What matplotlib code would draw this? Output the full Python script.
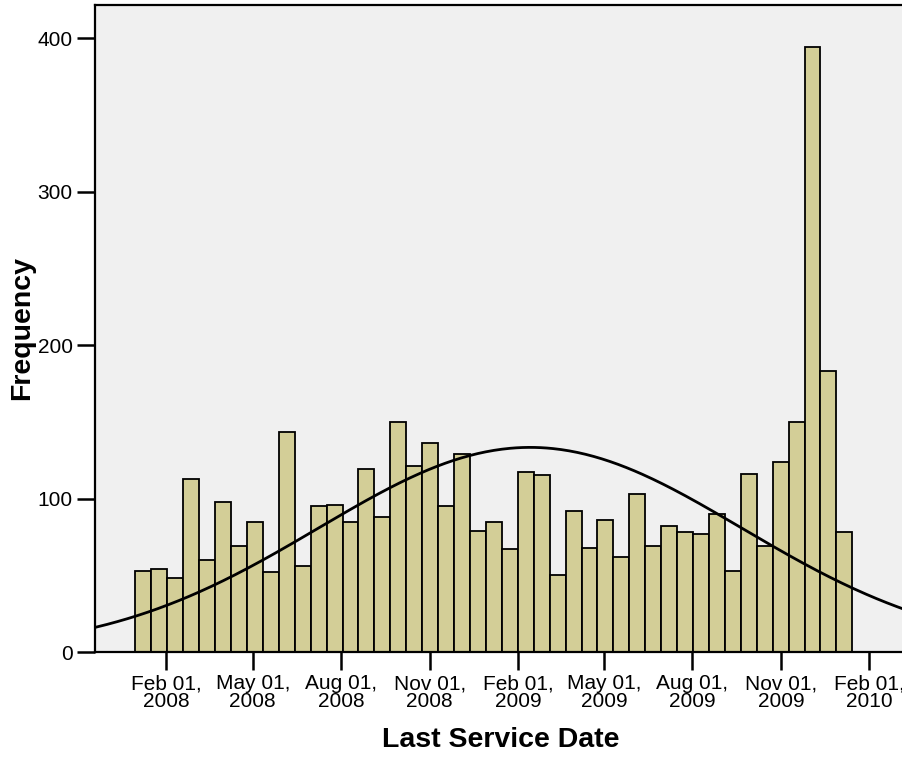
import datetime as dt

import numpy as np
import matplotlib
matplotlib.use("Agg")
import matplotlib.pyplot as plt
import matplotlib.dates as mdates

plt.rcParams["font.family"] = ["Liberation Sans", "DejaVu Sans"]

# histogram of last service dates: 45 bins, ~16.56 days wide
BIN_START = dt.datetime(2007, 12, 31)
BIN_DAYS = 16.56
counts = [53, 54, 48, 113, 60, 98, 69, 85, 52, 143,
          56, 95, 96, 85, 119, 88, 150, 121, 136, 95,
          129, 79, 85, 67, 117, 115, 50, 92, 68, 86,
          62, 103, 69, 82, 78, 77, 90, 53, 116, 69,
          124, 150, 394, 183, 78]
tick_dates = [dt.datetime(2008, 2, 1), dt.datetime(2008, 5, 1), dt.datetime(2008, 8, 1),
              dt.datetime(2008, 11, 1), dt.datetime(2009, 2, 1), dt.datetime(2009, 5, 1),
              dt.datetime(2009, 8, 1), dt.datetime(2009, 11, 1), dt.datetime(2010, 2, 1)]
tick_labels = ["Feb 01,\n2008", "May 01,\n2008", "Aug 01,\n2008", "Nov 01,\n2008",
               "Feb 01,\n2009", "May 01,\n2009", "Aug 01,\n2009", "Nov 01,\n2009",
               "Feb 01,\n2010"]
x_min, x_max = dt.datetime(2007, 11, 19), dt.datetime(2010, 3, 12)

counts = np.asarray(counts, dtype=float)
start = mdates.date2num(BIN_START)
lefts = start + np.arange(len(counts)) * BIN_DAYS
centers = lefts + BIN_DAYS / 2

# normal curve fitted to the binned data (SPSS style)
n = counts.sum()
mu = np.sum(centers * counts) / n
sd = np.sqrt(np.sum(counts * (centers - mu) ** 2) / n)
xs = np.linspace(mdates.date2num(x_min), mdates.date2num(x_max), 400)
ys = n * BIN_DAYS / (sd * np.sqrt(2 * np.pi)) * np.exp(-0.5 * ((xs - mu) / sd) ** 2)

fig = plt.figure(figsize=(9.03, 7.58), dpi=100)
ax = fig.add_axes([95 / 903, 1 - 652 / 758, 812 / 903, 647 / 758])
ax.set_facecolor("#F0F0F0")
ax.bar(lefts, counts, width=BIN_DAYS, align="edge", color="#D3CE97",
       edgecolor="black", linewidth=1.3, zorder=2)
ax.plot(xs, ys, color="black", lw=2.0, zorder=3)

ax.set_xlim(mdates.date2num(x_min), mdates.date2num(x_max))
ax.set_ylim(0, 421.5)
ax.set_yticks([0, 100, 200, 300, 400])
ax.set_xticks(mdates.date2num(tick_dates))
ax.set_xticklabels(tick_labels, multialignment="center", linespacing=0.9)
ax.tick_params(axis="both", direction="out", length=13, width=1.8, labelsize=15, pad=3)
for s in ax.spines.values():
    s.set_linewidth(1.6)

ax.set_xlabel("Last Service Date", fontsize=20.5, fontweight="bold", labelpad=12)
ax.set_ylabel("Frequency", fontsize=20.5, fontweight="bold", labelpad=2)

fig.savefig("out.png", dpi=100)
